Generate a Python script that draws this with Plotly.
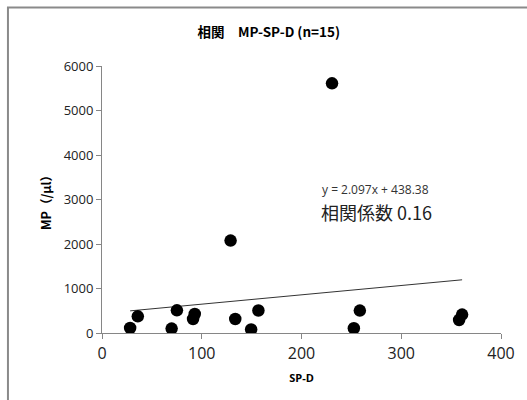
import plotly.graph_objects as go

sp_d = [28.2, 35.9, 69.8, 75.1, 91.3, 93.0, 128.9, 133.6, 149.5, 156.8,
        230.6, 252.5, 258.5, 358.0, 361.0]
mp = [112, 375, 99, 510, 315, 427, 2076, 315, 79, 506,
      5611, 106, 503, 292, 413]
slope = 2.097
intercept = 438.38
x_ticks = [0, 100, 200, 300, 400]
y_ticks = [0, 1000, 2000, 3000, 4000, 5000, 6000]

line_x = [min(sp_d), max(sp_d)]
line_y = [slope * v + intercept for v in line_x]

font_main = "Open Sans, Noto Sans CJK JP, sans-serif"
font_cjk = "Noto Sans CJK JP, Open Sans, sans-serif"

fig = go.Figure()
fig.add_trace(go.Scatter(x=line_x, y=line_y, mode="lines",
                         line=dict(color="#333333", width=1), showlegend=False,
                         hoverinfo="skip"))
fig.add_trace(go.Scatter(x=sp_d, y=mp, mode="markers",
                         marker=dict(color="black", size=12.5), showlegend=False))

fig.update_layout(
    width=527, height=400,
    margin=dict(l=102, r=24, t=66, b=67),
    paper_bgcolor="white", plot_bgcolor="white",
    title=dict(text="<b>相関　MP-SP-D (n=15)</b>", x=0.51, xanchor="center",
               y=0.92, yanchor="middle",
               font=dict(family=font_cjk, size=13.5, color="black")),
    xaxis=dict(range=[0, 400], tickvals=x_ticks, showgrid=False, zeroline=False,
               showline=True, linecolor="#868686", linewidth=1,
               ticks="outside", ticklen=5, tickcolor="#868686",
               ticklabelstandoff=1,
               tickfont=dict(family=font_main, size=16, color="#222222"),
               title=dict(text="<b>SP-D</b>", standoff=11,
                          font=dict(family=font_main, size=11, color="black"))),
    yaxis=dict(range=[0, 6000], tickvals=y_ticks, showgrid=False, zeroline=False,
               showline=True, linecolor="#868686", linewidth=1,
               ticks="outside", ticklen=5, tickcolor="#868686",
               tickfont=dict(family=font_main, size=13, color="#222222"),
               title=dict(text="<b>MP（/µl）</b>", standoff=9,
                          font=dict(family=font_cjk, size=12.5, color="black"))),
    shapes=[dict(type="rect", xref="paper", yref="paper",
                 x0=-0.2357, x1=1.3, y0=-0.6, y1=1.219,
                 line=dict(color="#8a8a8a", width=2), fillcolor="rgba(0,0,0,0)",
                 layer="below")],
    annotations=[
        dict(text="y = 2.097x + 438.38", x=0.6845, y=0.539, xref="paper", yref="paper",
             showarrow=False, xanchor="center", yanchor="middle",
             font=dict(family=font_main, size=12, color="#333333")),
        dict(text="相関係数 0.16", x=0.689, y=0.452, xref="paper", yref="paper",
             showarrow=False, xanchor="center", yanchor="middle",
             font=dict(family=font_cjk, size=18, color="#222222")),
    ],
)

fig.write_html("out.html", config={"displayModeBar": False},
               post_script="document.body.style.margin='0';")
